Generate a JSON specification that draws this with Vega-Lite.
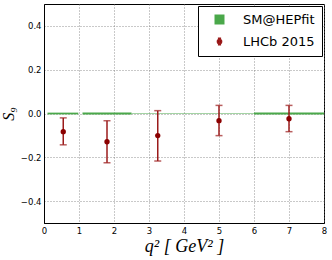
{
  "$schema": "https://vega.github.io/schema/vega-lite/v6.json",
  "width": 280,
  "height": 219,
  "autosize": {"type": "none"},
  "padding": {"left": 44, "top": 4, "right": 8, "bottom": 37},
  "background": "white",
  "config": {
    "view": {"stroke": "black", "strokeWidth": 1},
    "axis": {
      "domainColor": "black",
      "grid": true,
      "gridColor": "#777",
      "gridDash": [1, 2],
      "gridWidth": 0.8,
      "ticks": false,
      "labelFont": "DejaVu Sans",
      "labelFontSize": 8.5,
      "labelColor": "black",
      "titleFont": "Liberation Serif",
      "titleFontStyle": "italic",
      "titleFontWeight": "normal",
      "titleColor": "black"
    },
    "axisX": {
      "values": [0, 1, 2, 3, 4, 5, 6, 7, 8],
      "labelOverlap": false,
      "labelFlush": false,
      "format": "d",
      "labelPadding": 3,
      "titleFontSize": 18,
      "titlePadding": 3
    },
    "axisY": {
      "values": [-0.4, -0.2, 0, 0.2, 0.4],
      "labelOverlap": false,
      "format": ".1f",
      "labelPadding": 3,
      "titleFontSize": 16,
      "titlePadding": 4
    }
  },
  "datasets": {
    "sm": [
      {"series": "SM@HEPfit", "x0": 0.1, "x1": 0.98, "y0": -0.004, "y1": 0.004},
      {"series": "SM@HEPfit", "x0": 1.1, "x1": 2.5, "y0": -0.004, "y1": 0.004},
      {"series": "SM@HEPfit", "x0": 2.5, "x1": 4.0, "y0": -0.0015, "y1": 0.0015},
      {"series": "SM@HEPfit", "x0": 4.0, "x1": 6.0, "y0": -0.0015, "y1": 0.0015},
      {"series": "SM@HEPfit", "x0": 6.0, "x1": 8.0, "y0": -0.004, "y1": 0.004}
    ],
    "lhcb": [
      {"series": "LHCb 2015", "x": 0.55, "y": -0.083, "lo": -0.143, "hi": -0.02},
      {"series": "LHCb 2015", "x": 1.8, "y": -0.129, "lo": -0.225, "hi": -0.033},
      {"series": "LHCb 2015", "x": 3.25, "y": -0.101, "lo": -0.217, "hi": 0.013},
      {"series": "LHCb 2015", "x": 5.0, "y": -0.033, "lo": -0.101, "hi": 0.037},
      {"series": "LHCb 2015", "x": 7.0, "y": -0.024, "lo": -0.083, "hi": 0.037}
    ]
  },
  "layer": [
    {
      "data": {"name": "sm"},
      "mark": {"type": "rect"},
      "encoding": {
        "x": {"field": "x0", "type": "quantitative", "scale": {"domain": [0, 8], "nice": false},
              "axis": {"title": "q²  [ GeV² ]", "values": [0, 1, 2, 3, 4, 5, 6, 7, 8], "labelOverlap": false}},
        "x2": {"field": "x1"},
        "y": {"field": "y0", "type": "quantitative", "scale": {"domain": [-0.5, 0.5], "nice": false},
              "axis": {"title": "S₉"}},
        "y2": {"field": "y1"},
        "color": {"field": "series", "type": "nominal",
          "scale": {"domain": ["SM@HEPfit", "LHCb 2015"], "range": ["#4aa84a", "#8b0000"]},
          "legend": {
            "title": null,
            "orient": "top-right",
            "offset": 2,
            "fillColor": "white",
            "strokeColor": "black",
            "padding": 7,
            "symbolOffset": 8,
            "symbolSize": 100,
            "rowPadding": 7,
            "labelOffset": 17,
            "labelFont": "DejaVu Sans",
            "labelFontSize": 13,
            "labelColor": "black",
            "encode": {
              "symbols": {
                "update": {
                  "shape": {"signal": "datum.value === 'SM@HEPfit' ? 'square' : 'M0,-0.65L0,0.65M-0.32,-0.65L0.32,-0.65M-0.32,0.65L0.32,0.65M-0.42,0A0.42,0.42 0 1,0 0.42,0A0.42,0.42 0 1,0 -0.42,0Z'"},
                  "fill": {"signal": "scale('color', datum.value)"},
                  "stroke": {"signal": "datum.value === 'SM@HEPfit' ? 'transparent' : '#9b1b1b'"},
                  "strokeWidth": {"value": 1.5},
                  "opacity": {"value": 1},
                  "fillOpacity": {"value": 1}
                }
              }
            }
          }
        }
      }
    },
    {
      "data": {"name": "lhcb"},
      "mark": {"type": "rule", "color": "#9b1b1b", "strokeWidth": 1.5},
      "encoding": {
        "x": {"field": "x", "type": "quantitative", "axis": {"title": "q²  [ GeV² ]", "values": [0, 1, 2, 3, 4, 5, 6, 7, 8], "labelOverlap": false}},
        "y": {"field": "lo", "type": "quantitative", "axis": {"title": "S₉"}},
        "y2": {"field": "hi"}
      }
    },
    {
      "data": {"name": "lhcb"},
      "mark": {"type": "tick", "color": "#9b1b1b", "orient": "horizontal", "size": 7, "thickness": 1.5},
      "encoding": {
        "x": {"field": "x", "type": "quantitative", "axis": {"title": "q²  [ GeV² ]", "values": [0, 1, 2, 3, 4, 5, 6, 7, 8], "labelOverlap": false}},
        "y": {"field": "lo", "type": "quantitative", "axis": {"title": "S₉"}}
      }
    },
    {
      "data": {"name": "lhcb"},
      "mark": {"type": "tick", "color": "#9b1b1b", "orient": "horizontal", "size": 7, "thickness": 1.5},
      "encoding": {
        "x": {"field": "x", "type": "quantitative", "axis": {"title": "q²  [ GeV² ]", "values": [0, 1, 2, 3, 4, 5, 6, 7, 8], "labelOverlap": false}},
        "y": {"field": "hi", "type": "quantitative", "axis": {"title": "S₉"}}
      }
    },
    {
      "data": {"name": "lhcb"},
      "mark": {"type": "point", "filled": true, "opacity": 1, "size": 28, "shape": "circle"},
      "encoding": {
        "x": {"field": "x", "type": "quantitative", "axis": {"title": "q²  [ GeV² ]", "values": [0, 1, 2, 3, 4, 5, 6, 7, 8], "labelOverlap": false}},
        "y": {"field": "y", "type": "quantitative", "axis": {"title": "S₉"}},
        "color": {"field": "series", "type": "nominal"}
      }
    }
  ]
}
